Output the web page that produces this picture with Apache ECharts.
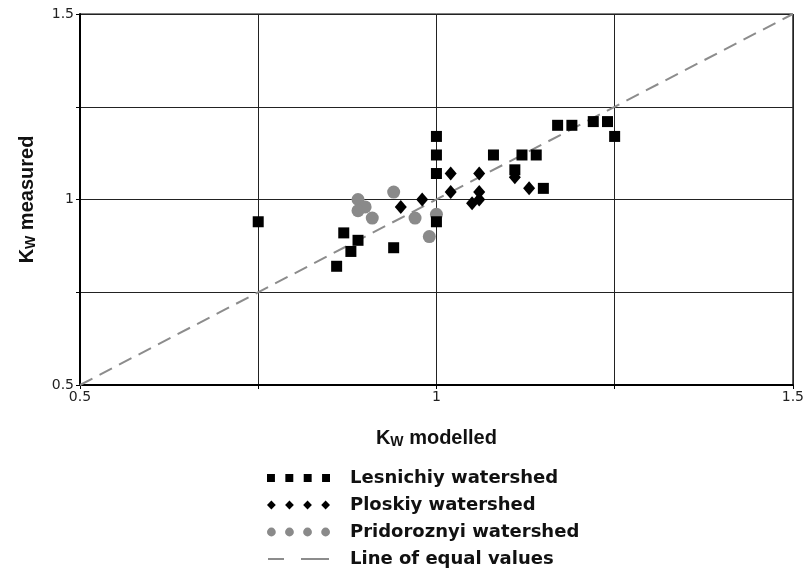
<!DOCTYPE html>
<html><head><meta charset="utf-8">
<script src="https://cdn.jsdelivr.net/npm/echarts@6/dist/echarts.min.js"></script>
<style>html,body{margin:0;padding:0;background:#fff}#c{width:807px;height:570px}</style>
</head><body><div id="c"></div>
<script>
const seriesNames = ['Lesnichiy watershed','Ploskiy watershed','Pridoroznyi watershed','Line of equal values'];
const lesnichiyX = [0.75,0.86,0.88,0.87,0.89,0.94,1.0,1.0,1.0,1.0,1.08,1.12,1.14,1.11,1.15,1.17,1.19,1.22,1.24,1.25];
const lesnichiyY = [0.94,0.82,0.86,0.91,0.89,0.87,1.17,1.12,1.07,0.94,1.12,1.12,1.12,1.08,1.03,1.20,1.20,1.21,1.21,1.17];
const ploskiyX = [0.95,0.98,1.02,1.02,1.06,1.06,1.06,1.05,1.11,1.13];
const ploskiyY = [0.98,1.00,1.07,1.02,1.07,1.02,1.00,0.99,1.06,1.03];
const pridoroznyiX = [0.94,0.89,0.90,0.89,0.91,0.97,1.00,0.99];
const pridoroznyiY = [1.02,1.00,0.98,0.97,0.95,0.95,0.96,0.90];
const equalX = [0.5,1.5];
const equalY = [0.5,1.5];
const tickLabels = {'0.5':'0.5','1':'1','1.5':'1.5'};

const zip = (a,b) => a.map((v,i)=>[v,b[i]]);
const chart = echarts.init(document.getElementById('c'));
const axisCommon = {
  type:'value', min:0.5, max:1.5, interval:0.25,
  axisLine:{show:true, lineStyle:{color:'#000', width:2}},
  axisTick:{show:true, length:4, lineStyle:{color:'#000'}},
  splitLine:{show:true, lineStyle:{color:'#222', width:1}},
  axisLabel:{color:'#222', fontFamily:'DejaVu Sans', fontSize:14,
    formatter: v => tickLabels[String(v)] || ''}
};
const nameRich = {k:{fontFamily:'Liberation Sans', fontWeight:'bold', fontSize:20, color:'#111'},
                  s:{fontFamily:'Liberation Sans', fontWeight:'bold', fontSize:14, color:'#111', padding:[8,0,0,0]}};
chart.setOption({
  animation:false,
  grid:{left:80, right:14, top:14, bottom:185, show:true, borderColor:'#000', borderWidth:1},
  xAxis:Object.assign({}, axisCommon, {
    name:'{k|K}{s|W}{k| modelled}', nameLocation:'middle', nameGap:42,
    nameTextStyle:{rich:nameRich},
    axisLabel:Object.assign({}, axisCommon.axisLabel, {margin:5})
  }),
  yAxis:Object.assign({}, axisCommon, {
    name:'{k|K}{s|W}{k| measured}', nameLocation:'middle', nameGap:42, nameRotate:90,
    nameTextStyle:{rich:nameRich},
    axisLabel:Object.assign({}, axisCommon.axisLabel, {margin:6})
  }),
  legend:{
    orient:'vertical', left:262, top:464, height:110, itemWidth:63, itemHeight:9, itemGap:9,
    textStyle:{fontFamily:'DejaVu Sans', fontWeight:'bold', fontSize:18, color:'#111', padding:[0,0,0,15]},
    data:[
      {name:seriesNames[0], icon:'path://M0,0h8v8h-8z M18.5,0h8v8h-8z M37,0h8v8h-8z M55.5,0h8v8h-8z'},
      {name:seriesNames[1], icon:'path://M4.5,0L9,4.5L4.5,9L0,4.5z M23,0L27.5,4.5L23,9L18.5,4.5z M41.5,0L46,4.5L41.5,9L37,4.5z M60,0L64.5,4.5L60,9L55.5,4.5z'},
      {name:seriesNames[2], icon:'path://M0,4.5a4.5,4.5 0 1,0 9,0a4.5,4.5 0 1,0 -9,0z M18.5,4.5a4.5,4.5 0 1,0 9,0a4.5,4.5 0 1,0 -9,0z M37,4.5a4.5,4.5 0 1,0 9,0a4.5,4.5 0 1,0 -9,0z M55.5,4.5a4.5,4.5 0 1,0 9,0a4.5,4.5 0 1,0 -9,0z'},
      {name:seriesNames[3], icon:'path://M0,0h16v2h-16z M33,0h28v2h-28z M0,-3.5h0.01v9h-0.01z'}
    ]
  },
  series:[
    {name:seriesNames[3], type:'line', data:zip(equalX,equalY), symbol:'none', color:'#8c8c8c',
     lineStyle:{color:'#8c8c8c', width:2, type:[14,8]}, z:1},
    {name:seriesNames[2], type:'scatter', data:zip(pridoroznyiX,pridoroznyiY), symbol:'circle', symbolSize:13,
     itemStyle:{color:'#8a8a8a', opacity:1}, z:2},
    {name:seriesNames[1], type:'scatter', data:zip(ploskiyX,ploskiyY), symbol:'diamond', symbolSize:[12,14],
     itemStyle:{color:'#000', opacity:1}, z:3},
    {name:seriesNames[0], type:'scatter', data:zip(lesnichiyX,lesnichiyY), symbol:'rect', symbolSize:11,
     itemStyle:{color:'#000', opacity:1}, z:4}
  ]
});
</script></body></html>
